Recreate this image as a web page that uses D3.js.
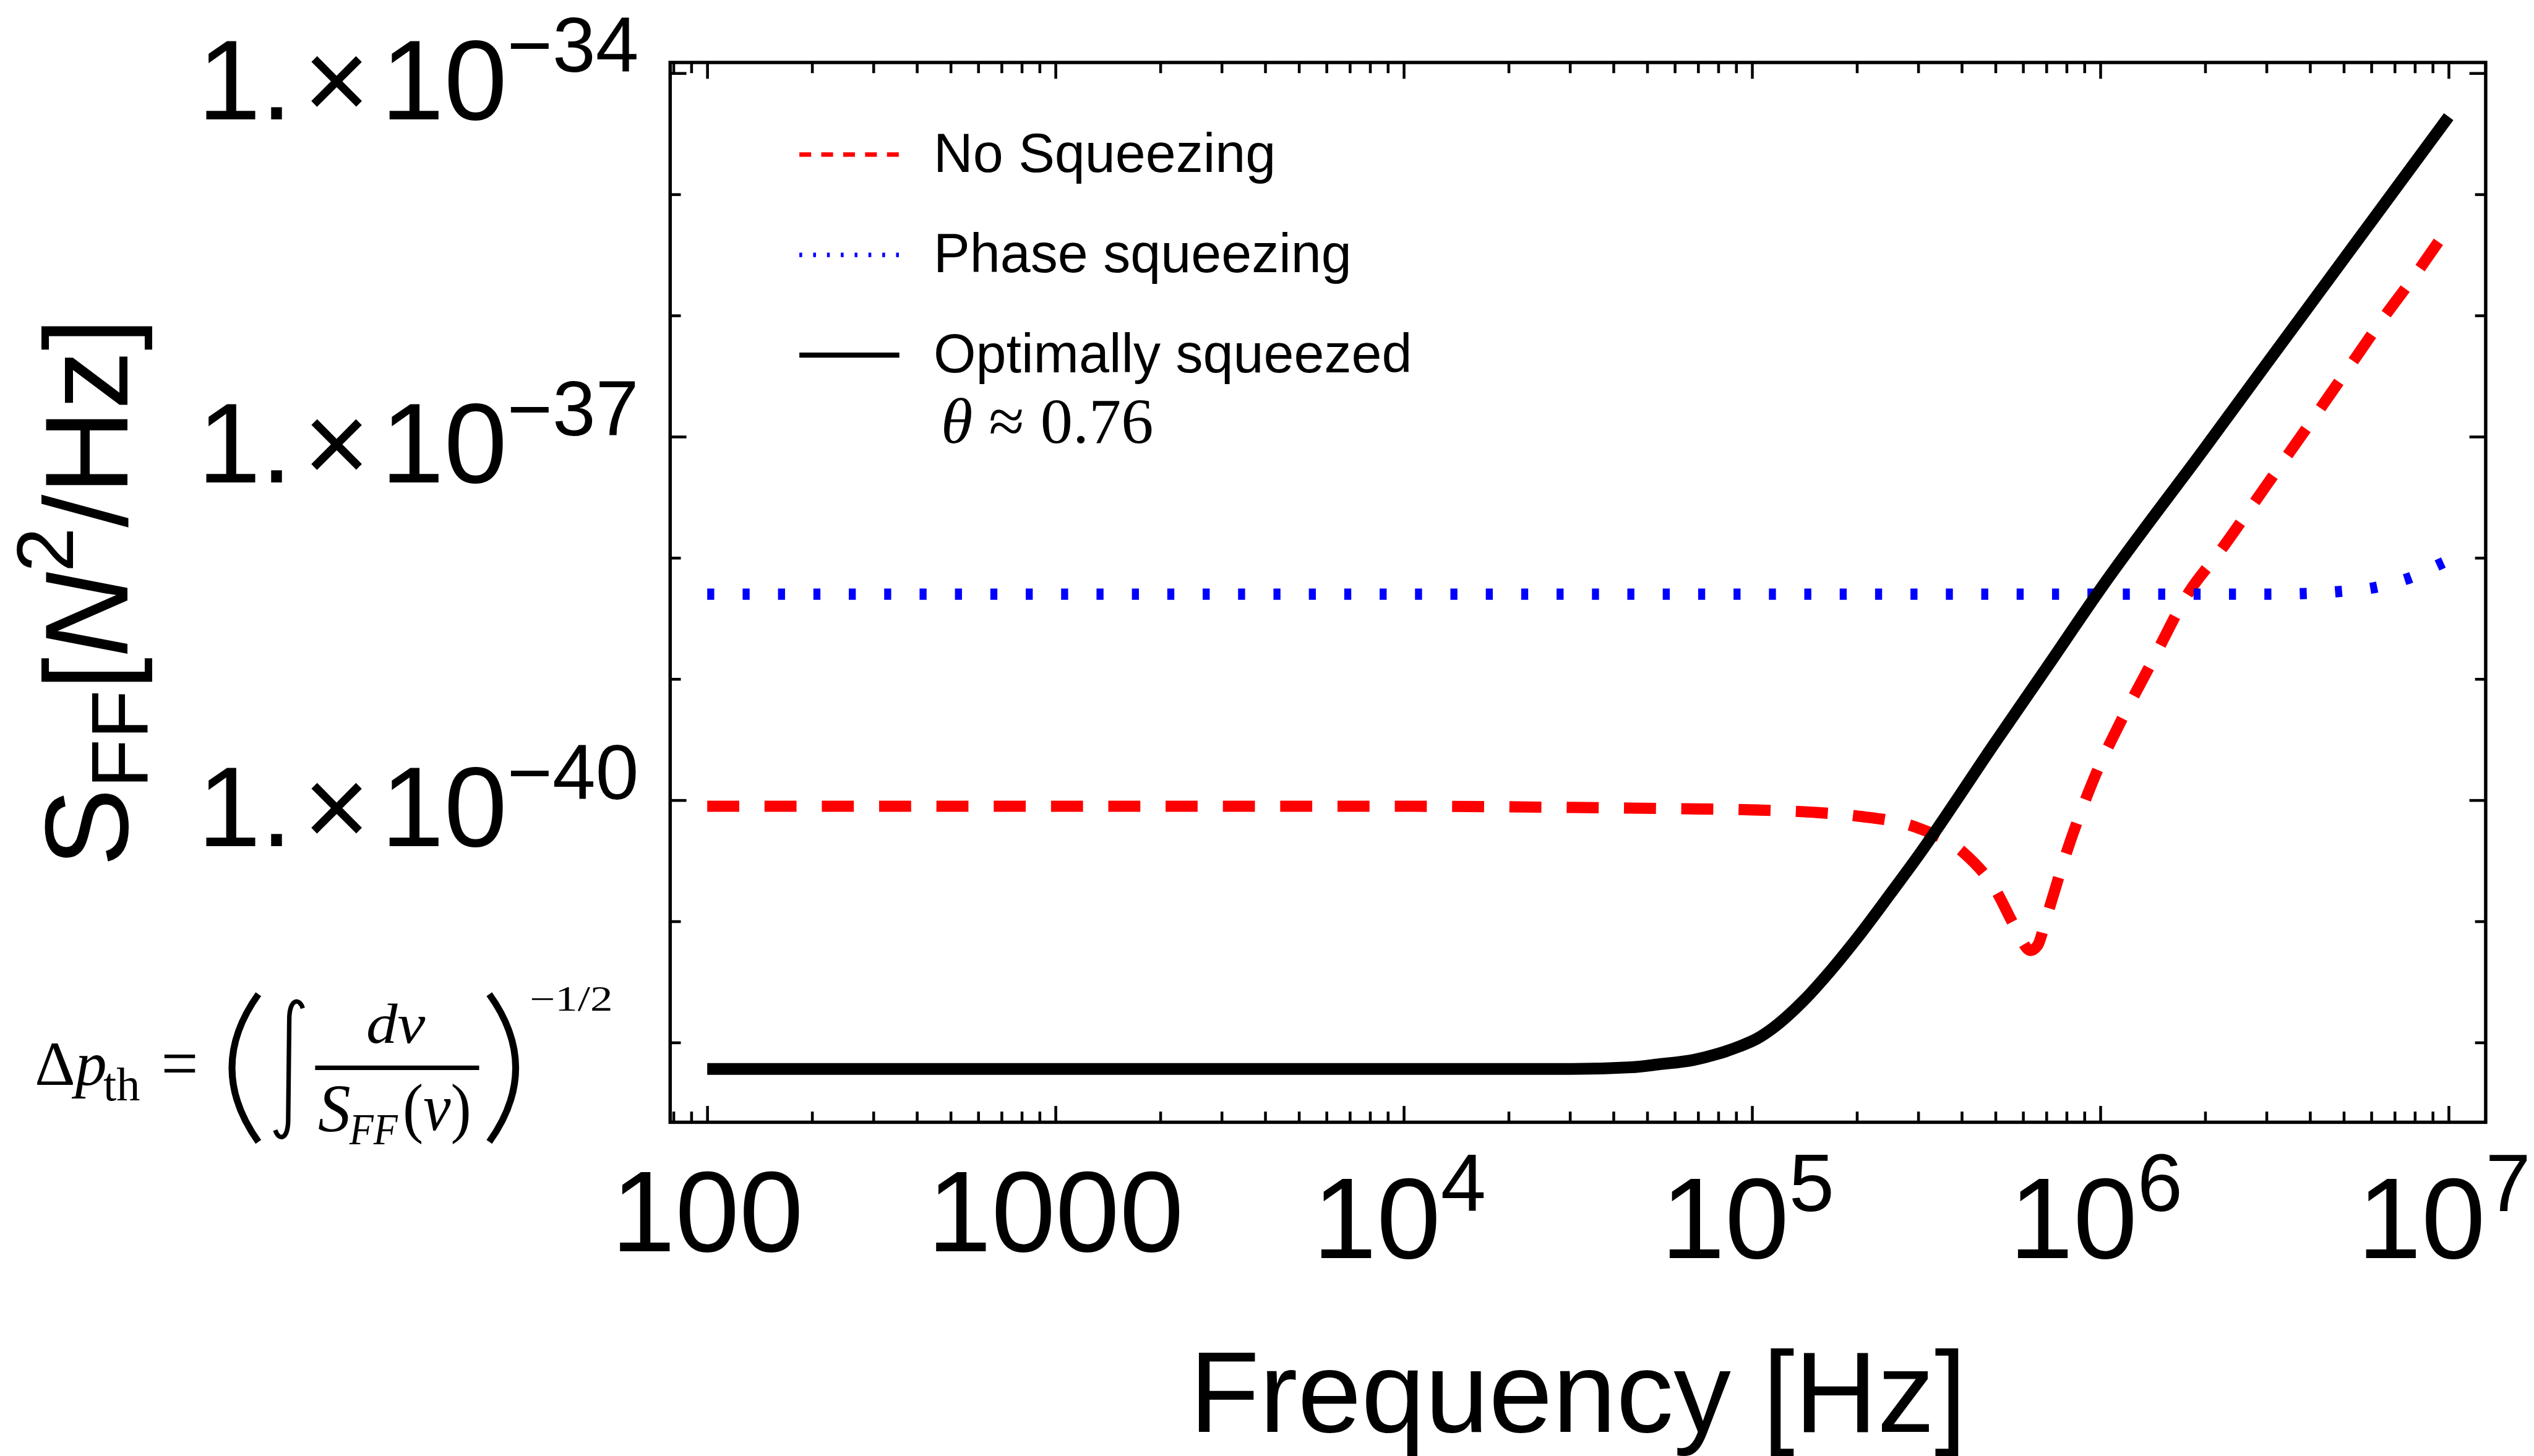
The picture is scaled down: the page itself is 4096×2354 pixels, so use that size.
<!DOCTYPE html>
<html>
<head>
<meta charset="utf-8">
<script src="https://cdn.jsdelivr.net/npm/d3@7"></script>
<style>
  html, body { margin: 0; padding: 0; background: #fff; }
  svg { display: block; }
</style>
</head>
<body>
<div id="chart"></div>
<script>
// values: frequency in Hz, S_FF in N^2/Hz
const noSqueezeFreq = [100, 1000, 1e4, 3e4, 6e4, 1e5, 1.5e5, 2e5, 3e5, 4e5, 5e5, 5.7e5, 6.3e5, 6.6e5, 7e5, 8e5, 9e5, 1e6, 1.1e6, 1.4e6, 1.8e6, 2.2e6, 3e6, 4e6, 5e6, 6.5e6, 8e6, 1e7];
const noSqueezeS = [8.91e-41, 8.91e-41, 8.91e-41, 8.71e-41, 8.51e-41, 8.32e-41, 7.94e-41, 7.41e-41, 5.89e-41, 3.80e-41, 1.82e-41, 8.91e-42, 5.75e-42, 6.31e-42, 1.07e-41, 3.72e-41, 9.55e-41, 2.00e-40, 3.55e-40, 1.35e-39, 5.25e-39, 1.12e-38, 3.98e-38, 1.29e-37, 3.24e-37, 9.55e-37, 2.14e-36, 5.37e-36];

const phaseFreq = [100, 1e4, 1e6, 3e6, 4e6, 5e6, 6e6, 7e6, 8e6, 9e6, 1e7];
const phaseS = [5.01e-39, 5.01e-39, 5.01e-39, 5.01e-39, 5.09e-39, 5.31e-39, 5.62e-39, 6.24e-39, 7.08e-39, 8.32e-39, 9.55e-39];

const optimalFreq = [100, 1000, 1e4, 3e4, 4.5e4, 5.4e4, 6.8e4, 7.9e4, 9.2e4, 1.03e5, 1.15e5, 1.4e5, 1.7e5, 2e5, 2.5e5, 3e5, 5e5, 7e5, 1e6, 2e6, 3e6, 1e7];
const optimalS = [6.05e-43, 6.05e-43, 6.05e-43, 6.05e-43, 6.25e-43, 6.61e-43, 7.18e-43, 8.00e-43, 9.29e-43, 1.07e-42, 1.32e-42, 2.19e-42, 4.07e-42, 7.24e-42, 1.70e-41, 3.47e-41, 3.02e-40, 1.23e-39, 5.50e-39, 8.13e-38, 3.98e-37, 4.37e-35];

const xTickValues = [1e2, 1e3, 1e4, 1e5, 1e6, 1e7];
const xTickBase = ["100", "1000", "10", "10", "10", "10"];
const xTickSup = ["", "", "4", "5", "6", "7"];

const yTickValues = [1e-34, 1e-35, 1e-36, 1e-37, 1e-38, 1e-39, 1e-40, 1e-41, 1e-42];
const yLabelValues = [1e-34, 1e-37, 1e-40];
const yLabelExps = ["\u221234", "\u221237", "\u221240"];

const legendLabels = ["No Squeezing", "Phase squeezing", "Optimally squeezed"];

const sans = "'Liberation Sans', Arial, Helvetica, sans-serif";
const serif = "'Liberation Serif', 'Times New Roman', Times, serif";

// reference is 4511x2592, page is drawn at 0.908 through the viewBox
const svg = d3.select("#chart")
  .append("svg")
  .attr("width", 4096)
  .attr("height", 2354)
  .attr("viewBox", "0 0 4511 2592");

svg.append("rect").attr("width", 4511).attr("height", 2592).attr("fill", "#fff");

const frame = { left: 1193, right: 4425, top: 111, bottom: 1998 };

const x = d3.scaleLog().domain([1e2, 1e7]).range([1259, 4359]);
const y = d3.scaleLog().domain([1e-42, 1e-34]).range([1856, 130]);

// minor x ticks (2..9 of every decade) that fall inside the frame
const xMinor = [];
[10, 100, 1e3, 1e4, 1e5, 1e6].forEach(dec => {
  d3.range(2, 10).forEach(k => xMinor.push(k * dec));
});
const xMinorIn = xMinor.filter(v => x(v) > frame.left + 3 && x(v) < frame.right - 3);

function tickAxis(axis, transform, values, len) {
  svg.append("g")
    .attr("transform", transform)
    .call(axis.tickValues(values).tickSize(-len).tickFormat(""))
    .call(g => g.select(".domain").remove())
    .call(g => g.selectAll("text").remove())
    .call(g => g.selectAll("line").attr("stroke", "#000").attr("stroke-width", 5));
}

tickAxis(d3.axisBottom(x), `translate(0,${frame.bottom})`, xTickValues, 29);
tickAxis(d3.axisBottom(x), `translate(0,${frame.bottom})`, xMinorIn, 19);
tickAxis(d3.axisTop(x), `translate(0,${frame.top})`, xTickValues, 29);
tickAxis(d3.axisTop(x), `translate(0,${frame.top})`, xMinorIn, 19);

const yShort = yTickValues.filter(v => !yLabelValues.includes(v));
tickAxis(d3.axisLeft(y), `translate(${frame.left},0)`, yLabelValues, 29);
tickAxis(d3.axisLeft(y), `translate(${frame.left},0)`, yShort, 19);
tickAxis(d3.axisRight(y), `translate(${frame.right},0)`, yLabelValues, 29);
tickAxis(d3.axisRight(y), `translate(${frame.right},0)`, yShort, 19);

svg.append("rect")
  .attr("x", frame.left)
  .attr("y", frame.top)
  .attr("width", frame.right - frame.left)
  .attr("height", frame.bottom - frame.top)
  .attr("fill", "none")
  .attr("stroke", "#000")
  .attr("stroke-width", 6);

// x tick labels
const xl = svg.append("g")
  .attr("font-family", sans)
  .attr("fill", "#000")
  .selectAll("text")
  .data(xTickValues)
  .join("text")
  .attr("x", (d, i) => x(d) + (xTickSup[i] ? -8 : 0))
  .attr("y", (d, i) => xTickSup[i] ? 2240 : 2228)
  .attr("text-anchor", "middle")
  .attr("font-size", 205);
xl.append("tspan").text((d, i) => xTickBase[i]);
xl.append("tspan")
  .attr("dy", -84)
  .attr("font-size", 145)
  .text((d, i) => xTickSup[i]);

// y tick labels
const yl = svg.append("g")
  .attr("font-family", sans)
  .attr("fill", "#000")
  .selectAll("text")
  .data(yLabelValues)
  .join("text")
  .attr("x", 1137)
  .attr("y", d => y(d) + 82)
  .attr("text-anchor", "end")
  .attr("font-size", 202);
yl.append("tspan").text("1.");
yl.append("tspan").attr("dx", 20).text("\u00d7");
yl.append("tspan").attr("dx", 20).text("10");
yl.append("tspan")
  .attr("dy", -84)
  .attr("font-size", 138)
  .text((d, i) => yLabelExps[i]);

// axis titles
svg.append("text")
  .attr("x", (frame.left + frame.right) / 2)
  .attr("y", 2549)
  .attr("text-anchor", "middle")
  .attr("font-family", sans)
  .attr("font-size", 204)
  .text("Frequency [Hz]");

const yt = svg.append("text")
  .attr("transform", `translate(227,${(frame.top + frame.bottom) / 2}) rotate(-90)`)
  .attr("text-anchor", "middle")
  .attr("font-family", sans)
  .attr("font-size", 210);
yt.append("tspan").text("S");
yt.append("tspan").attr("font-size", 143).attr("dy", 35).text("FF");
yt.append("tspan").attr("dy", -35).text("[");
yt.append("tspan").attr("font-style", "italic").text("N");
yt.append("tspan").attr("font-size", 143).attr("dy", -97).text("2");
yt.append("tspan").attr("dy", 97).text("/Hz]");

// curves
const series = [
  { freq: noSqueezeFreq, s: noSqueezeS, color: "#ff0000", width: 20, dash: "57 45" },
  { freq: phaseFreq, s: phaseS, color: "#0000ff", width: 20, dash: "12.5 50.5" },
  { freq: optimalFreq, s: optimalS, color: "#000000", width: 21, dash: null }
];

const line = d3.line()
  .x(d => x(d[0]))
  .y(d => y(d[1]))
  .curve(d3.curveMonotoneX);

svg.append("g")
  .selectAll("path")
  .data(series)
  .join("path")
  .attr("d", d => line(d.freq.map((f, i) => [f, d.s[i]])))
  .attr("fill", "none")
  .attr("stroke", d => d.color)
  .attr("stroke-width", d => d.width)
  .attr("stroke-dasharray", d => d.dash)
  .attr("stroke-linecap", "butt")
  .attr("stroke-linejoin", "round");

// legend
const legendStyle = [
  { color: "#ff0000", dash: "21 18" },
  { color: "#0000ff", dash: "5 19.6" },
  { color: "#000000", dash: null }
];
const lg = svg.append("g")
  .selectAll("g")
  .data(legendLabels)
  .join("g")
  .attr("transform", (d, i) => `translate(0,${275 + i * 178.5})`);
lg.append("line")
  .attr("x1", 1423).attr("x2", 1601)
  .attr("stroke", (d, i) => legendStyle[i].color)
  .attr("stroke-width", (d, i) => i === 2 ? 9 : 8)
  .attr("stroke-dasharray", (d, i) => legendStyle[i].dash);
lg.append("text")
  .attr("x", 1662)
  .attr("y", 31)
  .attr("font-family", sans)
  .attr("font-size", 97)
  .text(d => d);

const th = svg.append("text")
  .attr("x", 1675)
  .attr("y", 788)
  .attr("font-family", serif)
  .attr("font-size", 115);
th.append("tspan").attr("font-style", "italic").text("\u03b8");
th.append("tspan").text(" \u2248 0.76");

// formula for the momentum uncertainty
const fm = svg.append("g").attr("font-family", serif).attr("fill", "#000");
function piece(parts, px, py, size, width) {
  const t = fm.append("text")
    .attr("x", px)
    .attr("y", py)
    .attr("font-size", size)
    .attr("textLength", width)
    .attr("lengthAdjust", "spacingAndGlyphs");
  parts.forEach(p => {
    t.append("tspan").attr("font-style", p[1] ? "italic" : "normal").text(p[0]);
  });
}
// Δp with its subscript in one text element
const dp = fm.append("text")
  .attr("x", 62)
  .attr("y", 1932)
  .attr("font-size", 112);
dp.append("tspan").text("\u0394");
dp.append("tspan").attr("font-style", "italic").text("p");
dp.append("tspan").attr("x", 184).attr("dy", 27).attr("font-size", 84).text("th");

piece([["=", false]], 287, 1936, 128, 66);
piece([["d\u03bd", true]], 652, 1857, 100, 105);
piece([["S", true]], 566, 2014, 122, 58);
piece([["FF", true]], 622, 2037, 80, 86);
piece([["(", false], ["\u03bd", true], [")", false]], 717, 2012, 118, 122);
piece([["\u22121/2", false]], 943, 1799, 62, 148);

fm.append("line")
  .attr("x1", 561).attr("x2", 853)
  .attr("y1", 1901).attr("y2", 1901)
  .attr("stroke", "#000").attr("stroke-width", 8);
fm.append("path")
  .attr("d", "M460,1770 Q366,1901 460,2033")
  .attr("fill", "none").attr("stroke", "#000").attr("stroke-width", 12);
fm.append("path")
  .attr("d", "M871,1770 Q965,1901 871,2033")
  .attr("fill", "none").attr("stroke", "#000").attr("stroke-width", 12);
fm.append("path")
  .attr("d", "M539,1795 C533,1776 516,1778 515,1812 L513,1996 C512,2030 496,2031 490,2012")
  .attr("fill", "none").attr("stroke", "#000").attr("stroke-width", 8);
</script>
</body>
</html>
